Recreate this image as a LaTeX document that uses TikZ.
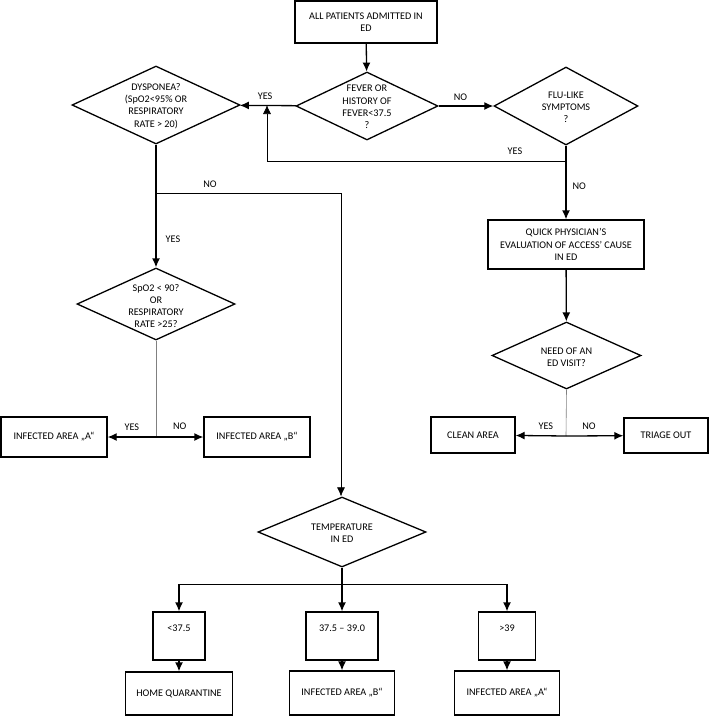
\documentclass[tikz,border=0pt]{standalone}
\usepackage{fontspec}
\setmainfont{Carlito}
\usetikzlibrary{shapes.geometric, arrows.meta}

\begin{document}
\begin{tikzpicture}[x=1pt, y=-1pt, >={Latex[length=9pt,width=8pt]},
  every node/.style={font=\fontsize{10.2}{12.2}\selectfont},
  thick/.style={line width=1.3pt},
  thin/.style={line width=0.6pt},
  box/.style={draw, thick, rectangle, align=center, inner sep=0pt},
  rangebox/.style={box, minimum height=48pt, text depth=16pt},
  dec/.style={draw, thick, diamond, inner sep=0pt},
  dectext/.style={align=center, inner sep=0pt},
  lbl/.style={inner sep=0pt}]
  \useasboundingbox (0,0) rectangle (710,716);

  % --- Start and first questions ---
  \node[box, minimum width=142pt, minimum height=42pt] (start) at (366,22) {ALL PATIENTS ADMITTED IN\\ED};
  \node[dec, minimum width=142pt, minimum height=68pt] (fever) at (367,106) {};
  \node[dectext] (fevertxt) at (367,107) {FEVER OR\\HISTORY OF\\FEVER<37.5\\?};
  \node[dec, minimum width=144pt, minimum height=78pt] (flu) at (566,106) {};
  \node[dectext] (flutxt) at (566,107) {FLU-LIKE\\SYMPTOMS\\?};
  \node[dec, minimum width=168pt, minimum height=78pt] (dysp) at (156,105) {};
  \node[dectext] (dysptxt) at (156,106) {DYSPONEA?\\(SpO2<95\% OR\\RESPIRATORY\\RATE > 20)};

  \draw[->, thick] (start) -- (fever);
  \draw[->, thick] (fever) -- (flu) node[lbl, pos=0.4, above=5pt] (lno1) {NO};
  \draw[->, thick] (fever) -- (dysp) node[lbl, pos=0.55, above=5pt] (lyes1) {YES};
  % flu yes goes back to dyspnoea
  \coordinate (fluyes) at (566,161);
  \coordinate (backup) at (267,161);
  \draw[->, thin] (fluyes) -- (backup) -- (backup |- dysp.east);
  \node[lbl] (lyes2) at (515,151) {YES};

  % --- Right branch ---
  \node[box, minimum width=156pt, minimum height=49pt] (quick) at (566,244.5) {QUICK PHYSICIAN’S\\EVALUATION OF ACCESS’ CAUSE\\IN ED};
  \node[dec, minimum width=149pt, minimum height=67pt] (need) at (566.5,355.5) {};
  \node[dectext] (needtxt) at (566.5,357) {NEED OF AN\\ED VISIT?};
  \node[box, minimum width=84pt, minimum height=36pt] (clean) at (473,435) {CLEAN AREA};
  \node[box, minimum width=84pt, minimum height=35pt] (triage) at (666,435.5) {TRIAGE OUT};

  \draw[->, thick] (flu) -- (quick) node[lbl, pos=0.55, right=6pt] (lno2) {NO};
  \draw[->, thick] (quick) -- (need);
  \coordinate (needsplit) at (566,436);
  \draw[thin, gray] (need.south) -- (needsplit);
  \draw[->, thick] (needsplit) -- (clean) node[lbl, pos=0.4, above=6pt] (lyes3) {YES};
  \draw[->, thick] (needsplit) -- (triage) node[lbl, pos=0.4, above=6pt] (lno3) {NO};

  % --- Left branch ---
  \node[dec, minimum width=158pt, minimum height=72pt] (spo) at (156,304) {};
  \node[dectext] (spotxt) at (156,306) {SpO2 < 90?\\OR\\RESPIRATORY\\RATE >25?};
  \node[box, minimum width=106pt, minimum height=40pt] (infa) at (54,437) {INFECTED AREA „A“};
  \node[box, minimum width=106pt, minimum height=40pt] (infb) at (257,437) {INFECTED AREA „B“};

  \draw[->, thick] (dysp) -- (spo);
  \node[lbl] (lyes4) at (173,239) {YES};
  \coordinate (dyspno) at (156,193);
  \coordinate (noright) at (341,193);
  \node[lbl] (lno4) at (210,184) {NO};
  \coordinate (spsplit) at (156,437);
  \draw[thin, gray] (spo.south) -- (spsplit);
  \draw[->, thick] (spsplit) -- (infa) node[lbl, pos=0.5, above=6pt] (lyes5) {YES};
  \draw[->, thick] (spsplit) -- (infb) node[lbl, pos=0.5, above=7pt] (lno5) {NO};

  % --- Temperature in ED ---
  \node[dec, minimum width=168pt, minimum height=70pt] (temp) at (342,532) {};
  \node[dectext] (temptxt) at (342,533) {TEMPERATURE\\IN ED};
  \draw[->, thin] (dyspno) -- (noright) -- (noright |- temp.north);

  \node[rangebox, minimum width=52pt] (low) at (179,636) {<37.5};
  \node[rangebox, minimum width=72pt] (mid) at (342,636) {37.5 – 39.0};
  \node[rangebox, minimum width=57pt] (high) at (507,636) {>39};
  \node[box, minimum width=107pt, minimum height=43pt] (home) at (179,693.5) {HOME QUARANTINE};
  \node[box, minimum width=105pt, minimum height=44pt] (infb2) at (342,693) {INFECTED AREA „B“};
  \node[box, minimum width=105pt, minimum height=44pt] (infa2) at (507,693) {INFECTED AREA „A“};

  \coordinate (tsplit) at (342,584);
  \draw[thick] (temp.south) -- (tsplit);
  \draw[thin] (low |- tsplit) -- (high |- tsplit);
  \draw[->, thick] (low |- tsplit) -- (low);
  \draw[->, thick] (tsplit) -- (mid);
  \draw[->, thick] (high |- tsplit) -- (high);
  \draw[->, thick] (low) -- (home);
  \draw[->, thick] (mid) -- (infb2);
  \draw[->, thick] (high) -- (infa2);
\end{tikzpicture}
\end{document}
